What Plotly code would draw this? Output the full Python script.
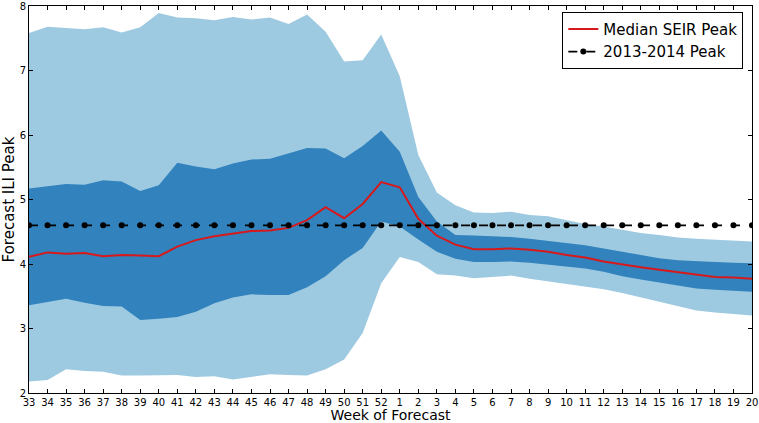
import plotly.graph_objects as go

weeks = [str(w) for w in range(33, 53)] + [str(w) for w in range(1, 21)]

outer_upper = [7.58, 7.68, 7.66, 7.64, 7.67, 7.59, 7.67, 7.89, 7.82, 7.81, 7.78, 7.83, 7.79,
               7.82, 7.72, 7.87, 7.60, 7.14, 7.16, 7.56, 6.91, 5.69, 5.11, 4.91, 4.80, 4.79,
               4.81, 4.76, 4.74, 4.68, 4.62, 4.58, 4.53, 4.48, 4.45, 4.41, 4.39, 4.38, 4.37, 4.35]
outer_lower = [2.18, 2.20, 2.37, 2.34, 2.33, 2.27, 2.27, 2.27, 2.28, 2.25, 2.26, 2.21, 2.25,
               2.29, 2.28, 2.27, 2.37, 2.52, 2.93, 3.70, 4.11, 4.03, 3.84, 3.82, 3.78, 3.80,
               3.82, 3.77, 3.73, 3.69, 3.66, 3.61, 3.55, 3.48, 3.41, 3.34, 3.28, 3.25, 3.23, 3.20]
inner_upper = [5.17, 5.21, 5.24, 5.23, 5.30, 5.28, 5.13, 5.22, 5.57, 5.51, 5.47, 5.56, 5.62,
               5.63, 5.72, 5.80, 5.79, 5.64, 5.83, 6.07, 5.74, 5.04, 4.66, 4.45, 4.44, 4.43,
               4.42, 4.39, 4.36, 4.33, 4.29, 4.24, 4.19, 4.13, 4.09, 4.06, 4.04, 4.03, 4.02, 4.01]
inner_lower = [3.36, 3.41, 3.46, 3.40, 3.35, 3.34, 3.13, 3.15, 3.18, 3.26, 3.39, 3.48, 3.53,
               3.52, 3.52, 3.64, 3.81, 4.06, 4.25, 4.66, 4.58, 4.38, 4.19, 4.08, 4.03, 4.03,
               4.04, 4.02, 3.99, 3.96, 3.93, 3.88, 3.81, 3.76, 3.71, 3.66, 3.62, 3.60, 3.59, 3.57]
median = [4.11, 4.18, 4.16, 4.17, 4.12, 4.14, 4.13, 4.12, 4.27, 4.37, 4.43, 4.47, 4.51,
          4.52, 4.56, 4.68, 4.88, 4.71, 4.93, 5.27, 5.19, 4.70, 4.44, 4.30, 4.23, 4.23,
          4.24, 4.22, 4.19, 4.14, 4.10, 4.04, 3.99, 3.95, 3.91, 3.87, 3.84, 3.80, 3.79, 3.77]
peak_2013_2014 = [4.6] * len(weeks)

x = list(range(len(weeks)))
LIGHT = "#9ecae1"
DARK = "#3182bd"

fig = go.Figure()
fig.add_trace(go.Scatter(x=x, y=outer_lower, mode="lines", line=dict(width=0, color=LIGHT),
                         showlegend=False, hoverinfo="skip"))
fig.add_trace(go.Scatter(x=x, y=outer_upper, mode="lines", line=dict(width=0, color=LIGHT),
                         fill="tonexty", fillcolor=LIGHT, showlegend=False, hoverinfo="skip"))
fig.add_trace(go.Scatter(x=x, y=inner_lower, mode="lines", line=dict(width=0, color=DARK),
                         showlegend=False, hoverinfo="skip"))
fig.add_trace(go.Scatter(x=x, y=inner_upper, mode="lines", line=dict(width=0, color=DARK),
                         fill="tonexty", fillcolor=DARK, showlegend=False, hoverinfo="skip"))
fig.add_trace(go.Scatter(x=x, y=median, mode="lines", name="Median SEIR Peak",
                         line=dict(color="#d7191c", width=2)))
fig.add_trace(go.Scatter(x=x, y=peak_2013_2014, mode="lines+markers", name="2013-2014 Peak",
                         line=dict(color="black", width=1.8, dash="dash"),
                         marker=dict(color="black", size=6)))

fig.update_layout(
    width=759, height=423,
    margin=dict(l=29, r=7, t=6, b=30),
    plot_bgcolor="white", paper_bgcolor="white",
    font=dict(family="DejaVu Sans", color="black"),
    legend=dict(x=0.988, y=0.985, xanchor="right", yanchor="top", traceorder="normal",
                bordercolor="black", borderwidth=1, bgcolor="white",
                font=dict(size=15), tracegroupgap=0),
)
fig.update_xaxes(
    range=[0, len(weeks) - 1], tickmode="array", tickvals=x, ticktext=weeks,
    ticks="inside", ticklen=4, tickcolor="black", mirror="ticks",
    showline=True, linecolor="black", linewidth=1, showgrid=False, zeroline=False,
    tickfont=dict(size=10),
    title=dict(text="Week of Forecast", font=dict(size=14), standoff=4),
    automargin=False,
)
fig.update_yaxes(
    range=[2, 8], tickvals=[2, 3, 4, 5, 6, 7, 8],
    ticks="inside", ticklen=4, tickcolor="black", mirror="ticks",
    showline=True, linecolor="black", linewidth=1, showgrid=False, zeroline=False,
    tickfont=dict(size=10),
    title=dict(text="Forecast ILI Peak", font=dict(size=15), standoff=2),
    automargin=False,
)

fig.write_html("out.html", config={"displayModeBar": False},
               post_script="document.body.style.margin='0';")
